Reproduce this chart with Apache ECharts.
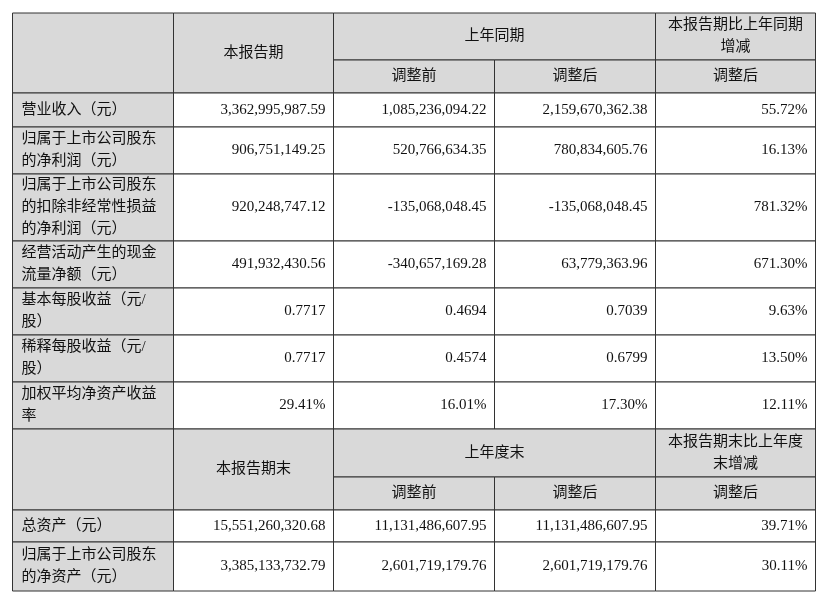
<!DOCTYPE html>
<html><head><meta charset="utf-8">
<script src="https://cdn.jsdelivr.net/npm/echarts@6/dist/echarts.min.js"></script>
<style>body{margin:0}#c{width:825px;height:598px}</style></head>
<body><div id="c"></div>
<script>
// 数据
var periodLabels = ['营业收入（元）', '归属于上市公司股东\n的净利润（元）', '归属于上市公司股东\n的扣除非经常性损益\n的净利润（元）', '经营活动产生的现金\n流量净额（元）', '基本每股收益（元/\n股）', '稀释每股收益（元/\n股）', '加权平均净资产收益\n率'];
var periodCur = ['3,362,995,987.59', '906,751,149.25', '920,248,747.12', '491,932,430.56', '0.7717', '0.7717', '29.41%'];
var periodBefore = ['1,085,236,094.22', '520,766,634.35', '-135,068,048.45', '-340,657,169.28', '0.4694', '0.4574', '16.01%'];
var periodAfter = ['2,159,670,362.38', '780,834,605.76', '-135,068,048.45', '63,779,363.96', '0.7039', '0.6799', '17.30%'];
var periodChange = ['55.72%', '16.13%', '781.32%', '671.30%', '9.63%', '13.50%', '12.11%'];
var endLabels = ['总资产（元）', '归属于上市公司股东\n的净资产（元）'];
var endCur = ['15,551,260,320.68', '3,385,133,732.79'];
var endBefore = ['11,131,486,607.95', '2,601,719,179.76'];
var endAfter = ['11,131,486,607.95', '2,601,719,179.76'];
var endChange = ['39.71%', '30.11%'];

var colX = [12.5, 173.5, 333.5, 494.5, 655.5, 815.5];
var rows1 = [93, 127, 174, 241, 288, 335, 382, 429];
var rows2 = [510, 542, 591];
var gray = '#d9d9d9';
var font = '"Liberation Serif","Noto Sans CJK SC",serif';
var els = [];

function cell(x0, x1, y0, y1, fill) {
  els.push({type: 'rect', shape: {x: x0, y: y0, width: x1 - x0, height: y1 - y0},
    style: {fill: fill, stroke: '#333', lineWidth: 1}});
}
function txt(s, x, y, align) {
  els.push({type: 'text', x: x, y: y, style: {text: s, font: '15px ' + font, fill: '#111',
    align: align, verticalAlign: 'middle', lineHeight: 22}});
}
function header(top, mid, bot, curTitle, prevTitle, chgTitle) {
  cell(colX[0], colX[1], top, bot, gray);
  cell(colX[1], colX[2], top, bot, gray);
  cell(colX[2], colX[4], top, mid, gray);
  cell(colX[4], colX[5], top, mid, gray);
  cell(colX[2], colX[3], mid, bot, gray);
  cell(colX[3], colX[4], mid, bot, gray);
  cell(colX[4], colX[5], mid, bot, gray);
  txt(curTitle, (colX[1] + colX[2]) / 2, (top + bot) / 2, 'center');
  txt(prevTitle, (colX[2] + colX[4]) / 2, (top + mid) / 2, 'center');
  txt(chgTitle, (colX[4] + colX[5]) / 2, (top + mid) / 2, 'center');
  txt('调整前', (colX[2] + colX[3]) / 2, (mid + bot) / 2, 'center');
  txt('调整后', (colX[3] + colX[4]) / 2, (mid + bot) / 2, 'center');
  txt('调整后', (colX[4] + colX[5]) / 2, (mid + bot) / 2, 'center');
}
function body(rows, labels, cols) {
  for (var i = 0; i < labels.length; i++) {
    var y0 = rows[i], y1 = rows[i + 1], ym = (y0 + y1) / 2;
    cell(colX[0], colX[1], y0, y1, gray);
    txt(labels[i], colX[0] + 9, ym, 'left');
    for (var j = 0; j < cols.length; j++) {
      cell(colX[j + 1], colX[j + 2], y0, y1, '#fff');
      txt(cols[j][i], colX[j + 2] - 8, ym, 'right');
    }
  }
}
header(13, 60, 93, '本报告期', '上年同期', '本报告期比上年同期\n增减');
body(rows1, periodLabels, [periodCur, periodBefore, periodAfter, periodChange]);
header(429, 477, 510, '本报告期末', '上年度末', '本报告期末比上年度\n末增减');
body(rows2, endLabels, [endCur, endBefore, endAfter, endChange]);

var chart = echarts.init(document.getElementById('c'));
chart.setOption({backgroundColor: '#fff', graphic: {elements: els}});
</script></body></html>
